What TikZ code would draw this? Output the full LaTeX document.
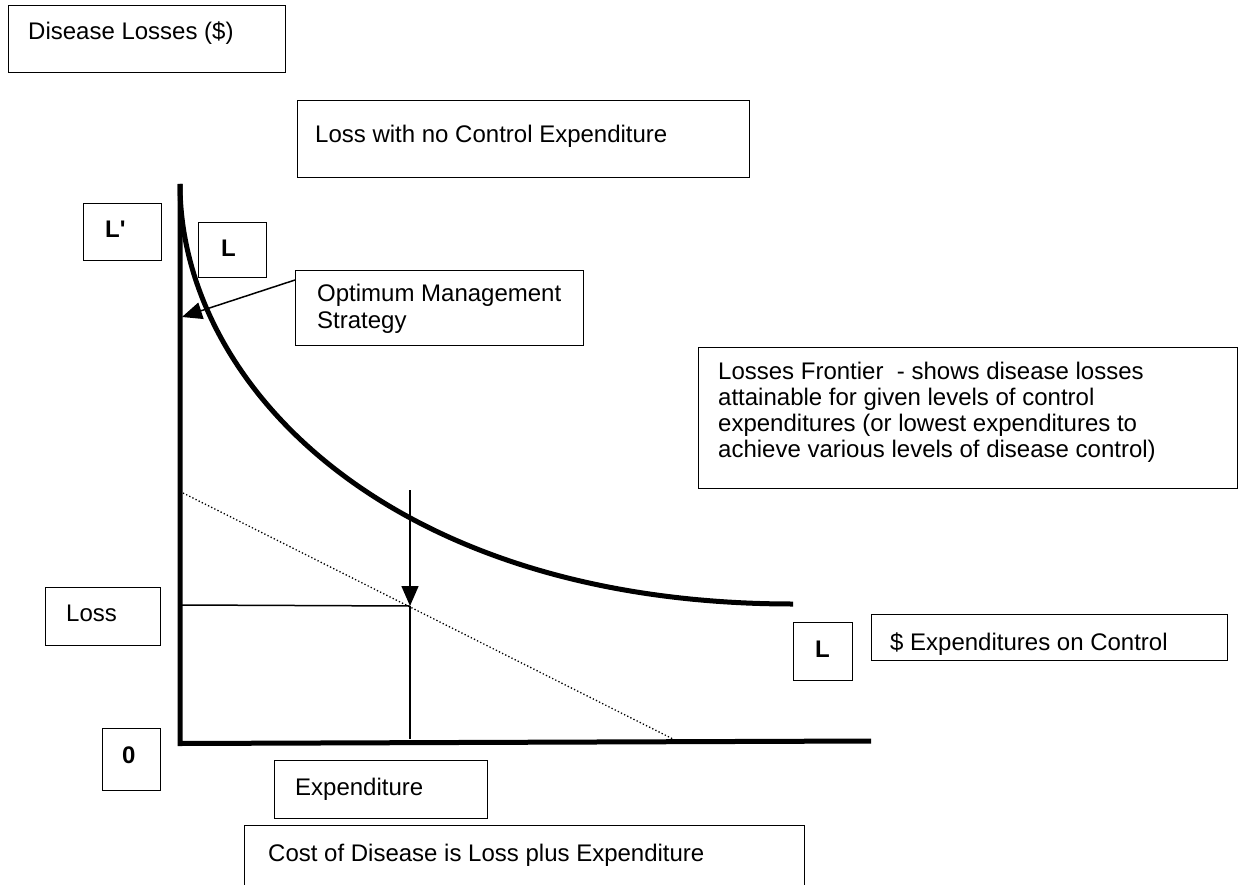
\documentclass[tikz,border=0pt]{standalone}
\usepackage{fontspec}
\setmainfont{Liberation Sans}
\usetikzlibrary{arrows.meta,calc}
\begin{document}
\begin{tikzpicture}[x=1pt,y=-1pt,
  box/.style={draw, line width=1.3pt, inner sep=0pt, anchor=north west},
  txt/.style={inner sep=0pt, anchor=base west, align=left,
    font=\fontsize{24}{27}\selectfont},
  btxt/.style={inner sep=0pt, anchor=base west,
    font=\fontsize{24}{27}\selectfont\bfseries},
  axisline/.style={line width=5pt},
  frontier/.style={line width=5pt, line cap=butt},
  thinline/.style={line width=1.5pt},
  pointer/.style={line width=1.5pt, -{Triangle[length=20pt,width=17pt]}},
  cost/.style={line width=1.3pt, dash pattern=on 1.3pt off 2.2pt}
]
\useasboundingbox (0,0) rectangle (1238,885);
\clip (0,0) rectangle (1238,885);

% boxes
\node[box, minimum width=277pt, minimum height=67pt] (dl) at (8,5) {};
\node[box, minimum width=452pt, minimum height=77pt] (lnc) at (297,100) {};
\node[box, minimum width=78pt, minimum height=57pt] (lp) at (83,203) {};
\node[box, minimum width=68pt, minimum height=55pt] (la) at (198,222) {};
\node[box, minimum width=288pt, minimum height=75pt] (opt) at (295,270) {};
\node[box, minimum width=539pt, minimum height=141pt] (lf) at (698,347) {};
\node[box, minimum width=115pt, minimum height=58pt] (loss) at (45,587) {};
\node[box, minimum width=58pt, minimum height=62pt] (zero) at (102,728) {};
\node[box, minimum width=59pt, minimum height=58pt] (lb) at (793,622) {};
\node[box, minimum width=356pt, minimum height=46pt] (exc) at (871,614) {};
\node[box, minimum width=213pt, minimum height=58pt] (exp) at (274,760) {};
\node[box, minimum width=560pt, minimum height=80pt] (cst) at (244,825) {};

% texts (multi-line nodes: base = baseline of the last line)
\node[txt] (dlt) at (28,40) {Disease Losses (\$)};
\node[txt] (lnct) at (315,143) {Loss with no Control Expenditure};
\node[btxt] (lpt) at (105,237) {L\textquotesingle};
\node[btxt] (lat) at (221,256) {L};
\node[txt] (optt) at (317,328) {Optimum Management\\Strategy};
\node[txt, font=\fontsize{24}{26}\selectfont] (lft) at (718,457) {Losses Frontier \ - shows disease losses\\attainable for given levels of control\\expenditures (or lowest expenditures to\\achieve various levels of disease control)};
\node[txt] (losst) at (66,621) {Loss};
\node[btxt] (zerot) at (122,763) {0};
\node[btxt] (lbt) at (815,657) {L};
\node[txt] (exct) at (890,650) {\$ Expenditures on Control};
\node[txt] (expt) at (295,795) {Expenditure};
\node[txt] (cstt) at (268,861) {Cost of Disease is Loss plus Expenditure};

% axes
\coordinate (ytop) at (180,184);
\coordinate (xend) at (871,741);
\draw[axisline] (ytop) -- (180,743.5) -- (xend);

% losses frontier
\coordinate (fr0) at (180,184);
\coordinate (fr1) at (793,604);
\draw[frontier] (fr0) .. controls (180,385) and (390,604) .. (fr1);

% cost line (dotted)
\coordinate (cst0) at (183,493);
\coordinate (cst1) at (673,739);
\draw[cost] (cst0) -- (cst1);

% optimum
\coordinate (vtop) at (410,490);
\coordinate (opt pt) at (410,606);
\coordinate (vbot) at (410,739);
\coordinate (lossy) at (182,605);
\draw[pointer] (vtop) -- (opt pt);
\draw[thinline] (opt pt) -- (vbot);
\draw[thinline] (lossy) -- (opt pt);

% pointer from Optimum box
\coordinate (opttip) at (182,317);
\draw[pointer] ($(opt.north west)+(0,10)$) -- (opttip);
\end{tikzpicture}
\end{document}
